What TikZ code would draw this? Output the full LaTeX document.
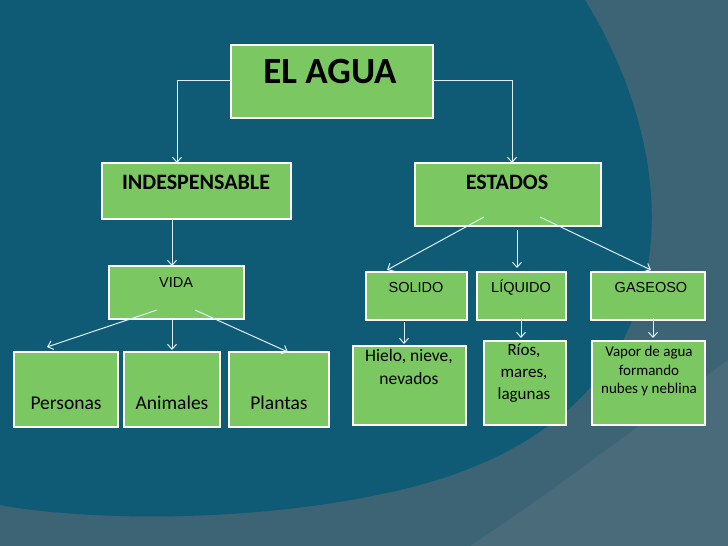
\documentclass[tikz,border=0pt]{standalone}
\usepackage{fontspec}
\setmainfont{Carlito}
\newfontfamily\arialfont{Liberation Sans}
\definecolor{bgouter}{HTML}{3C6475}
\definecolor{bginner}{HTML}{0F5B76}
\definecolor{bgarc}{HTML}{4A6B79}
\definecolor{boxgreen}{HTML}{7BC862}
\definecolor{linkblue}{HTML}{DDF0FA}
\tikzset{
  box/.style={draw=white, line width=1.5pt, fill=boxgreen},
  link/.style={draw=linkblue, line width=1pt, -{Straight Barb[length=5pt,width=9pt]}},
  lbl/.style={align=center, text=black, inner sep=0pt},
}
\usetikzlibrary{arrows.meta}
\begin{document}
\begin{tikzpicture}[x=1pt, y=-1pt]
  \fill[bgouter] (0,0) rectangle (728,546);
  \useasboundingbox (0,0) rectangle (728,546);
  \fill[bginner] (0,0) -- (585,0) .. controls (690,170) and (700,420) .. (400,490)
    .. controls (250,525) and (80,520) .. (0,505) -- cycle;
  \fill[bgarc] (728,360) .. controls (620,440) and (540,500) .. (470,546) -- (728,546) -- cycle;

  % boxes
  \draw[box] (231,45) rectangle (433,118);
  \node[lbl, font=\bfseries\fontsize{37}{40}\selectfont] (agua) at (330,72) {EL AGUA};
  \draw[box] (102,163) rectangle (291,219);
  \node[lbl, font=\bfseries\fontsize{22}{24}\selectfont] (indes) at (196,182) {INDESPENSABLE};
  \draw[box] (415,163) rectangle (601,226);
  \node[lbl, font=\bfseries\fontsize{22}{24}\selectfont] (estados) at (507,182) {ESTADOS};

  \draw[box] (109,266) rectangle (244,319);
  \node[lbl, font=\arialfont\fontsize{14.5}{16}\selectfont] (vida) at (176,283) {VIDA};
  \draw[box] (366,272) rectangle (467,320);
  \node[lbl, font=\arialfont\fontsize{14.5}{16}\selectfont] (solido) at (416,288) {SOLIDO};
  \draw[box] (477,272) rectangle (566,320);
  \node[lbl, font=\arialfont\fontsize{14.5}{16}\selectfont] (liquido) at (521,288) {LÍQUIDO};
  \draw[box] (591,272) rectangle (705,320);
  \node[lbl, font=\arialfont\fontsize{14.5}{16}\selectfont] (gaseoso) at (651,288) {GASEOSO};

  \draw[box] (14,352) rectangle (118,427);
  \node[lbl, font=\fontsize{19.5}{21}\selectfont] (personas) at (66,403) {Personas};
  \draw[box] (124,352) rectangle (220,427);
  \node[lbl, font=\fontsize{19.5}{21}\selectfont] (animales) at (172,403) {Animales};
  \draw[box] (229,352) rectangle (329,427);
  \node[lbl, font=\fontsize{19.5}{21}\selectfont] (plantas) at (279,403) {Plantas};

  \draw[box] (353,346) rectangle (466,425);
  \node[lbl, anchor=north, font=\fontsize{17.5}{23}\selectfont] (hielo) at (409,349) {Hielo, nieve,\\nevados};
  \draw[box] (484,341) rectangle (566,425);
  \node[lbl, anchor=north, font=\fontsize{17}{22}\selectfont] (rios) at (524,344) {Ríos,\\mares,\\lagunas};
  \draw[box] (592,341) rectangle (705,425);
  \node[lbl, anchor=north, font=\fontsize{15}{18.5}\selectfont] (vapor) at (649,346) {Vapor de agua\\formando\\nubes y neblina};

  % connectors
  \coordinate (aL) at (231,80); \coordinate (aR) at (433,80);
  \coordinate (iT) at (177,163); \coordinate (eT) at (512,163);
  \draw[link] (aL) -| (iT);
  \draw[link] (aR) -| (eT);
  \draw[link] (172,219) -- (172,266);
  \draw[link] (484,217) -- (387,270);
  \draw[link] (517,230) -- (517,268);
  \draw[link] (540,217) -- (651,270);
  \draw[link] (157,310) -- (47,347);
  \draw[link] (172,319) -- (172,350);
  \draw[link] (195,310) -- (288,352);
  \draw[link] (404,322) -- (404,344);
  \draw[link] (521,318) -- (521,338);
  \draw[link] (653,318) -- (653,338);
\end{tikzpicture}
\end{document}
